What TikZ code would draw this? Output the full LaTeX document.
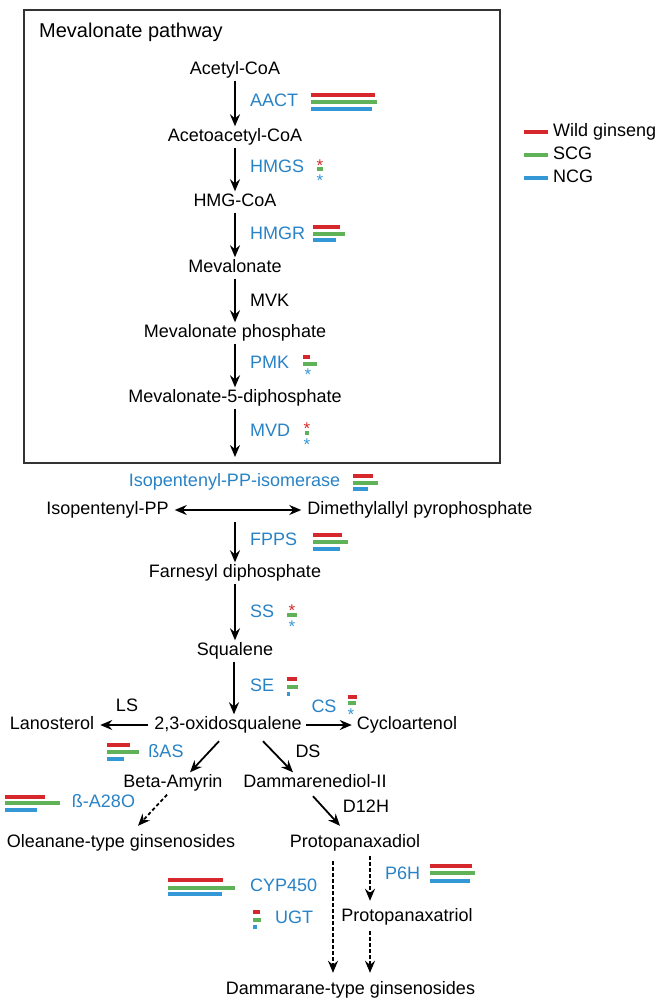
\documentclass[tikz,border=0pt]{standalone}
\usepackage{fontspec}
\setmainfont{Liberation Sans}
\usetikzlibrary{arrows.meta,calc}
\definecolor{wred}{RGB}{214,40,44}
\definecolor{wgreen}{RGB}{96,178,88}
\definecolor{wblue}{RGB}{52,152,214}
\definecolor{lblue}{RGB}{40,130,198}
\begin{document}
\begin{tikzpicture}[x=1pt,y=-1pt,
  txt/.style={font=\fontsize{18}{21}\selectfont, text height=13pt, text depth=4pt, inner sep=2pt},
  lbl/.style={txt, text=lblue, anchor=west},
  blk/.style={txt, anchor=west},
  arr/.style={line width=1.8pt, -{Stealth[length=12pt,width=10pt,inset=4pt]}},
  darr/.style={arr, dash pattern=on 3.5pt off 2.5pt},
  dbl/.style={line width=1.8pt, {Stealth[length=12pt,width=10pt,inset=4pt]}-{Stealth[length=12pt,width=10pt,inset=4pt]}},
  bar/.style={line width=3.2pt},
  ast/.style={font=\fontsize{17}{17}\selectfont, inner sep=0pt, yshift=-3.5pt}]
\useasboundingbox (0,0) rectangle (660,1004);
% box
\draw[line width=1.2pt, black!80] (24,10) rectangle (500,463);
\node[font=\fontsize{20}{24}\selectfont, anchor=west, inner sep=0pt] (title) at (39,32) {Mevalonate pathway};
% main column
\node[txt] (acetyl) at (235,70) {Acetyl-CoA};
\node[txt] (acac) at (235,137) {Acetoacetyl-CoA};
\node[txt] (hmg) at (235,202) {HMG-CoA};
\node[txt] (mev) at (235,268) {Mevalonate};
\node[txt] (mevp) at (235,333) {Mevalonate phosphate};
\node[txt] (mevpp) at (235,398) {Mevalonate-5-diphosphate};
\coordinate (mvdend) at (235,457);
\draw[arr] (acetyl) -- (acac);
\draw[arr] (acac) -- (hmg);
\draw[arr] (hmg) -- (mev);
\draw[arr] (mev) -- (mevp);
\draw[arr] (mevp) -- (mevpp);
\draw[arr] (mevpp) -- (mvdend);
% enzyme labels in box
\node[lbl] (aact) at (248,102) {AACT};
\draw[bar,wred] (311,95) -- (375,95);
\draw[bar,wgreen] (311,102) -- (377,102);
\draw[bar,wblue] (311,109) -- (372,109);
\node[lbl] (hmgs) at (248,168) {HMGS};
\node[ast,text=wred] (hmgs1) at (320,162) {*};
\draw[bar,wgreen] (317,169) -- (323,169);
\node[ast,text=wblue] (hmgs3) at (320,177) {*};
\node[lbl] (hmgr) at (248,235) {HMGR};
\draw[bar,wred] (313,227) -- (340,227);
\draw[bar,wgreen] (313,234) -- (345,234);
\draw[bar,wblue] (313,240) -- (336,240);
\node[blk] (mvk) at (248,302) {MVK};
\node[lbl] (pmk) at (248,364) {PMK};
\draw[bar,wred] (303,357) -- (310,357);
\draw[bar,wgreen] (303,364) -- (317,364);
\node[ast,text=wblue] (pmk3) at (308,371) {*};
\node[lbl] (mvd) at (248,432) {MVD};
\node[ast,text=wred] (mvd1) at (307,425) {*};
\draw[bar,wgreen] (305,433) -- (309,433);
\node[ast,text=wblue] (mvd3) at (307,441) {*};
% legend
\draw[bar,wred] (524,132) -- (548,132);
\node[blk] (lg1) at (551,132) {Wild ginseng};
\draw[bar,wgreen] (524,155) -- (548,155);
\node[blk] (lg2) at (551,155) {SCG};
\draw[bar,wblue] (524,178) -- (548,178);
\node[blk] (lg3) at (551,178) {NCG};
% isomerase
\node[txt,text=lblue] (ipi) at (234.5,482) {Isopentenyl-PP-isomerase};
\draw[bar,wred] (353,476) -- (373,476);
\draw[bar,wgreen] (353,483) -- (378,483);
\draw[bar,wblue] (353,489) -- (368,489);
\node[txt] (ipp) at (107.5,510) {Isopentenyl-PP};
\node[txt] (dmapp) at (420,510) {Dimethylallyl pyrophosphate};
\draw[dbl, shorten <=4pt, shorten >=4pt] (ipp) -- (dmapp);
\coordinate (fstart) at (235,522);
\node[txt] (fpp) at (235,573) {Farnesyl diphosphate};
\draw[arr] (fstart) -- (fpp);
\node[lbl] (fpps) at (248,541) {FPPS};
\draw[bar,wred] (313,535) -- (342,535);
\draw[bar,wgreen] (313,542) -- (348,542);
\draw[bar,wblue] (313,549) -- (340,549);
\node[txt] (sq) at (235,651) {Squalene};
\draw[arr] (fpp) -- (sq);
\node[lbl] (ss) at (248,613) {SS};
\node[ast,text=wred] (ss1) at (292,607) {*};
\draw[bar,wgreen] (287,615) -- (297,615);
\node[ast,text=wblue] (ss3) at (292,623) {*};
\node[txt] (oxido) at (228,725) {2,3-oxidosqualene};
\draw[arr] (sq.south -| 234,0) -- (oxido.north -| 234,0);
\node[lbl] (se) at (248,687) {SE};
\draw[bar,wred] (287,679) -- (297,679);
\draw[bar,wgreen] (287,687) -- (298,687);
\draw[bar,wblue] (287,694) -- (290,694);
% side branches
\node[txt] (lano) at (52,725) {Lanosterol};
\node[txt] (cyclo) at (407,725) {Cycloartenol};
\draw[arr, shorten <=4pt, shorten >=4pt] (oxido) -- (lano);
\draw[arr, shorten <=2pt, shorten >=3pt] (oxido) -- (cyclo);
\node[txt] (ls) at (127,707) {LS};
\node[txt,text=lblue] (cs) at (324,708) {CS};
\draw[bar,wred] (348,697) -- (357,697);
\draw[bar,wgreen] (348,703) -- (356,703);
\node[ast,text=wblue] (cs3) at (351,711) {*};
% beta-amyrin branch
\node[txt] (beta) at (173,783) {Beta-Amyrin};
\node[txt] (damd) at (315,783) {Dammarenediol-II};
\draw[arr] ([xshift=-9pt,yshift=-5.5pt]oxido.south) -- ([xshift=17pt]beta.north);
\draw[arr] ([xshift=35pt,yshift=-5.5pt]oxido.south) -- ([xshift=-22pt]damd.north);
\node[txt,text=lblue] (bas) at (166,753) {ßAS};
\draw[bar,wred] (107,745) -- (130,745);
\draw[bar,wgreen] (107,752) -- (139,752);
\draw[bar,wblue] (107,759) -- (124,759);
\node[txt] (ds) at (308,753) {DS};
\node[txt] (olean) at (121,843) {Oleanane-type ginsenosides};
\draw[darr] ([xshift=-6pt,yshift=-1pt]beta.south) -- ([xshift=17pt,yshift=6.5pt]olean.north);
\node[txt,text=lblue] (ba28) at (103.5,803) {ß-A28O};
\draw[bar,wred] (5,797) -- (45,797);
\draw[bar,wgreen] (5,803) -- (60,803);
\draw[bar,wblue] (5,810) -- (37,810);
% dammarane branch
\node[txt] (ppd) at (355,843) {Protopanaxadiol};
\draw[arr] ([xshift=-2pt,yshift=-2.5pt]damd.south) -- ([xshift=-15pt,yshift=6.5pt]ppd.north);
\node[txt] (d12h) at (366,808) {D12H};
\node[txt] (ppt) at (407,917) {Protopanaxatriol};
\node[txt] (dam) at (350.5,990) {Dammarane-type ginsenosides};
\coordinate (l1) at (333,0);
\coordinate (l2) at (370,0);
\draw[darr] ($(ppd.south -| l1)+(0,7.5)$) -- ($(dam.north -| l1)+(0,-6.5)$);
\draw[darr] ($(ppd.south -| l2)+(0,2.5)$) -- ($(ppt.north -| l2)+(0,-5.5)$);
\draw[darr] ($(ppt.south -| l2)+(0,3.5)$) -- ($(dam.north -| l2)+(0,-6.5)$);
\node[lbl] (p6h) at (383,875) {P6H};
\draw[bar,wred] (430,866) -- (472,866);
\draw[bar,wgreen] (430,873) -- (475,873);
\draw[bar,wblue] (430,881) -- (470,881);
\node[lbl] (cyp) at (248,887) {CYP450};
\draw[bar,wred] (168,880) -- (223,880);
\draw[bar,wgreen] (168,888) -- (235,888);
\draw[bar,wblue] (168,894) -- (222,894);
\node[lbl] (ugt) at (273,919) {UGT};
\draw[bar,wred] (253,912) -- (260,912);
\draw[bar,wgreen] (253,920) -- (261,920);
\draw[bar,wblue] (253,927) -- (257,927);
\end{tikzpicture}
\end{document}
